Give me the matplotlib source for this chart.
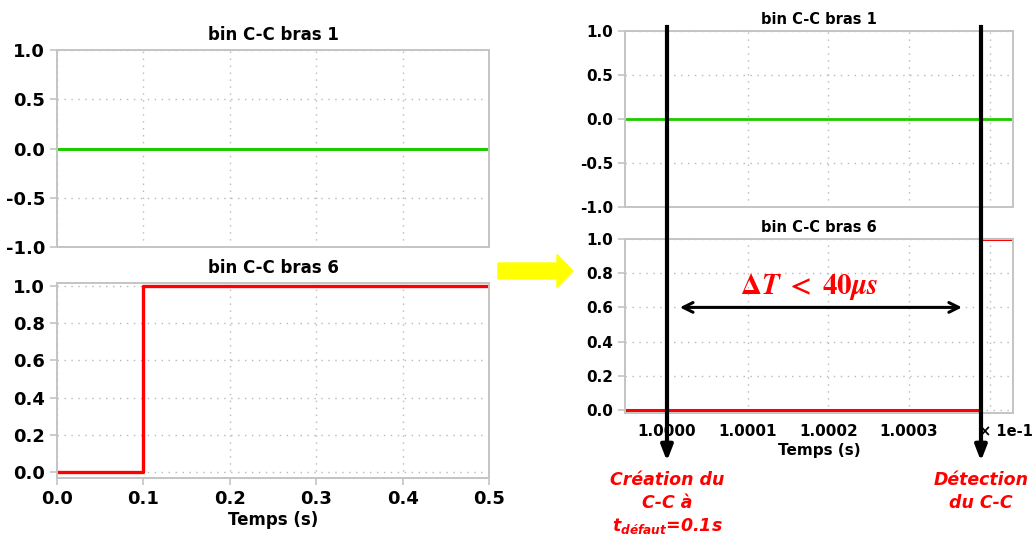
import matplotlib
matplotlib.use("Agg")
import matplotlib.pyplot as plt
from matplotlib.transforms import blended_transform_factory
from matplotlib.patches import FancyArrow
from matplotlib.ticker import FixedLocator, FixedFormatter

plt.rcParams['font.family'] = ['DejaVu Sans']
plt.rcParams['font.weight'] = 'bold'
plt.rcParams['mathtext.fontset'] = 'custom'
plt.rcParams['mathtext.it'] = 'DejaVu Sans:italic:bold'
plt.rcParams['mathtext.rm'] = 'DejaVu Sans:bold'

# ---------------- data ----------------
titles = ["bin C-C bras 1", "bin C-C bras 6"]
t_full = [0.0, 0.1, 0.1, 0.5]
bras1_full = [0, 0, 0, 0]
bras6_full = [0, 0, 1, 1]

t_zoom = [0.0999948, 0.1000389, 0.1000389, 0.10004287]
bras1_zoom = [0, 0, 0, 0]
bras6_zoom = [0, 0, 1, 1]

t_fault = 0.1
t_detect = 0.1000389
delta_arrow = [0.1000016, 0.10003655]
delta_label_t = 0.1000176

left_xticks = [0.0, 0.1, 0.2, 0.3, 0.4, 0.5]
left_xticklabels = ["0.0", "0.1", "0.2", "0.3", "0.4", "0.5"]
top_yticks = [-1.0, -0.5, 0.0, 0.5, 1.0]
top_yticklabels = ["-1.0", "-0.5", "0.0", "0.5", "1.0"]
bot_yticks = [0.0, 0.2, 0.4, 0.6, 0.8, 1.0]
bot_yticklabels = ["0.0", "0.2", "0.4", "0.6", "0.8", "1.0"]
right_xticks = [0.1, 0.10001, 0.10002, 0.10003, 0.10004]
right_xticklabels = ["1.0000", "1.0001", "1.0002", "1.0003", ""]

GREEN = "#1ecb00"
RED = "#ff0000"
SPINE = "#c4c4c4"
GRID = "#b8b8b8"

W, H = 1033, 539
fig = plt.figure(figsize=(W / 100, H / 100), dpi=100)


def box(x0, y0, x1, y1):
    return [x0 / W, 1 - y1 / H, (x1 - x0) / W, (y1 - y0) / H]


def style(ax, fs):
    for s in ax.spines.values():
        s.set_color(SPINE)
        s.set_linewidth(1.4)
    ax.tick_params(colors=SPINE, labelcolor="black", labelsize=fs, length=5, width=1.2)
    ax.grid(True, linestyle=(0, (1, 4)), color=GRID, linewidth=1.0)


# ---------------- left panel ----------------
axL1 = fig.add_axes(box(57, 50, 489, 247))
axL2 = fig.add_axes(box(57, 283, 489, 478))
style(axL1, 13)
style(axL2, 13)
axL1.plot(t_full, bras1_full, color=GREEN, lw=2.2)
axL2.plot(t_full, bras6_full, color=RED, lw=2.4)
for ax in (axL1, axL2):
    ax.set_xlim(0, 0.5)
    ax.set_xticks(left_xticks)
axL1.set_ylim(-1, 1)
axL1.set_yticks(top_yticks)
axL1.set_yticklabels(top_yticklabels, fontweight="bold")
axL1.tick_params(axis="x", labelbottom=False, length=0)
axL2.set_ylim(-0.032, 1.016)
axL2.set_yticks(bot_yticks)
axL2.set_yticklabels(bot_yticklabels, fontweight="bold")
axL2.set_xticklabels(left_xticklabels, fontweight="bold")
axL1.set_title(titles[0], fontsize=12, fontweight="bold", pad=7)
axL2.set_title(titles[1], fontsize=12, fontweight="bold", pad=7)
axL2.set_xlabel("Temps (s)", fontsize=12, fontweight="bold", labelpad=2)

# ---------------- right panel ----------------
axR1 = fig.add_axes(box(625, 31, 1013, 207))
axR2 = fig.add_axes(box(625, 239, 1013, 413))
style(axR1, 11)
style(axR2, 11)
axR1.plot(t_zoom, bras1_zoom, color=GREEN, lw=2.0)
axR2.plot(t_zoom[:2], bras6_zoom[:2], color=RED, lw=2.2, clip_on=False,
          solid_capstyle="butt")
axR2.plot(t_zoom[2:], bras6_zoom[2:], color=RED, lw=2.2, clip_on=False,
          solid_capstyle="butt")
for ax in (axR1, axR2):
    ax.set_xlim(t_zoom[0], t_zoom[-1])
    ax.xaxis.set_major_locator(FixedLocator(right_xticks))
axR1.set_ylim(-1, 1)
axR1.set_yticks(top_yticks)
axR1.set_yticklabels(top_yticklabels, fontweight="bold")
axR1.tick_params(axis="x", labelbottom=False, length=0)
axR2.set_ylim(-0.0175, 1.0)
axR2.set_yticks(bot_yticks)
axR2.set_yticklabels(bot_yticklabels, fontweight="bold")
axR2.xaxis.set_major_formatter(FixedFormatter(right_xticklabels))
for lab in axR2.get_xticklabels():
    lab.set_fontweight("bold")
axR2.tick_params(axis="x", length=0, pad=8)
axR1.set_title(titles[0], fontsize=10.5, fontweight="bold", pad=5)
axR2.set_title(titles[1], fontsize=10.5, fontweight="bold", pad=5)
axR2.set_xlabel("Temps (s)", fontsize=11, fontweight="bold", labelpad=3)
fig.text(979 / W, 1 - 432 / H, "× 1e-1", fontsize=10.5, fontweight="bold",
         ha="left", va="center")

# vertical black arrows across both right axes
tr = blended_transform_factory(axR2.transData, fig.transFigure)
for t in (t_fault, t_detect):
    fig.add_artist(plt.Line2D([t, t], [1 - 27 / H, 1 - 446 / H], transform=tr,
                              color="black", lw=3, zorder=10))
    axR2.annotate("", xy=(t, 1 - 461 / H), xycoords=tr,
                  xytext=(t, 1 - 440 / H), textcoords=tr,
                  arrowprops=dict(arrowstyle="-|>,head_length=0.9,head_width=0.35",
                                  color="black", lw=3, shrinkA=0, shrinkB=0),
                  annotation_clip=False, zorder=10)

# double arrow
axR2.annotate("", xy=(delta_arrow[0], 0.6), xytext=(delta_arrow[1], 0.6),
              arrowprops=dict(arrowstyle="<->,head_length=0.7,head_width=0.35",
                              color="black", lw=2.2, shrinkA=0, shrinkB=0))
dt = axR2.text(delta_label_t, 0.72,
               r"$\mathbf{\Delta}\boldsymbol{T}\;<\;\mathbf{40}\boldsymbol{\mu s}$",
               color=RED, fontsize=21, ha="center", va="center", math_fontfamily="stix")
try:
    fig.canvas.draw()
except Exception:
    dt.set_text(r"$\Delta T < 40\mu s$")

# red annotations
red_kw = dict(color=RED, fontsize=12.5, fontweight="bold", fontstyle="italic",
              ha="center", va="center")
fig.text(667 / W, 1 - 480 / H, "Création du", **red_kw)
fig.text(667 / W, 1 - 503 / H, "C-C à", **red_kw)
fig.text(667 / W, 1 - 526 / H, r"$t_{défaut}$=0.1s", **red_kw)
fig.text(981 / W, 1 - 480 / H, "Détection", **red_kw)
fig.text(981 / W, 1 - 503 / H, "du C-C", **red_kw)

# yellow arrow between panels
fig.add_artist(FancyArrow(498 / W, 1 - 271 / H, 59 / W, 0, width=16 / H,
                          head_width=33 / H, head_length=16 / W,
                          length_includes_head=False, color="#ffff00",
                          transform=fig.transFigure))

fig.savefig("out.png", dpi=100)
